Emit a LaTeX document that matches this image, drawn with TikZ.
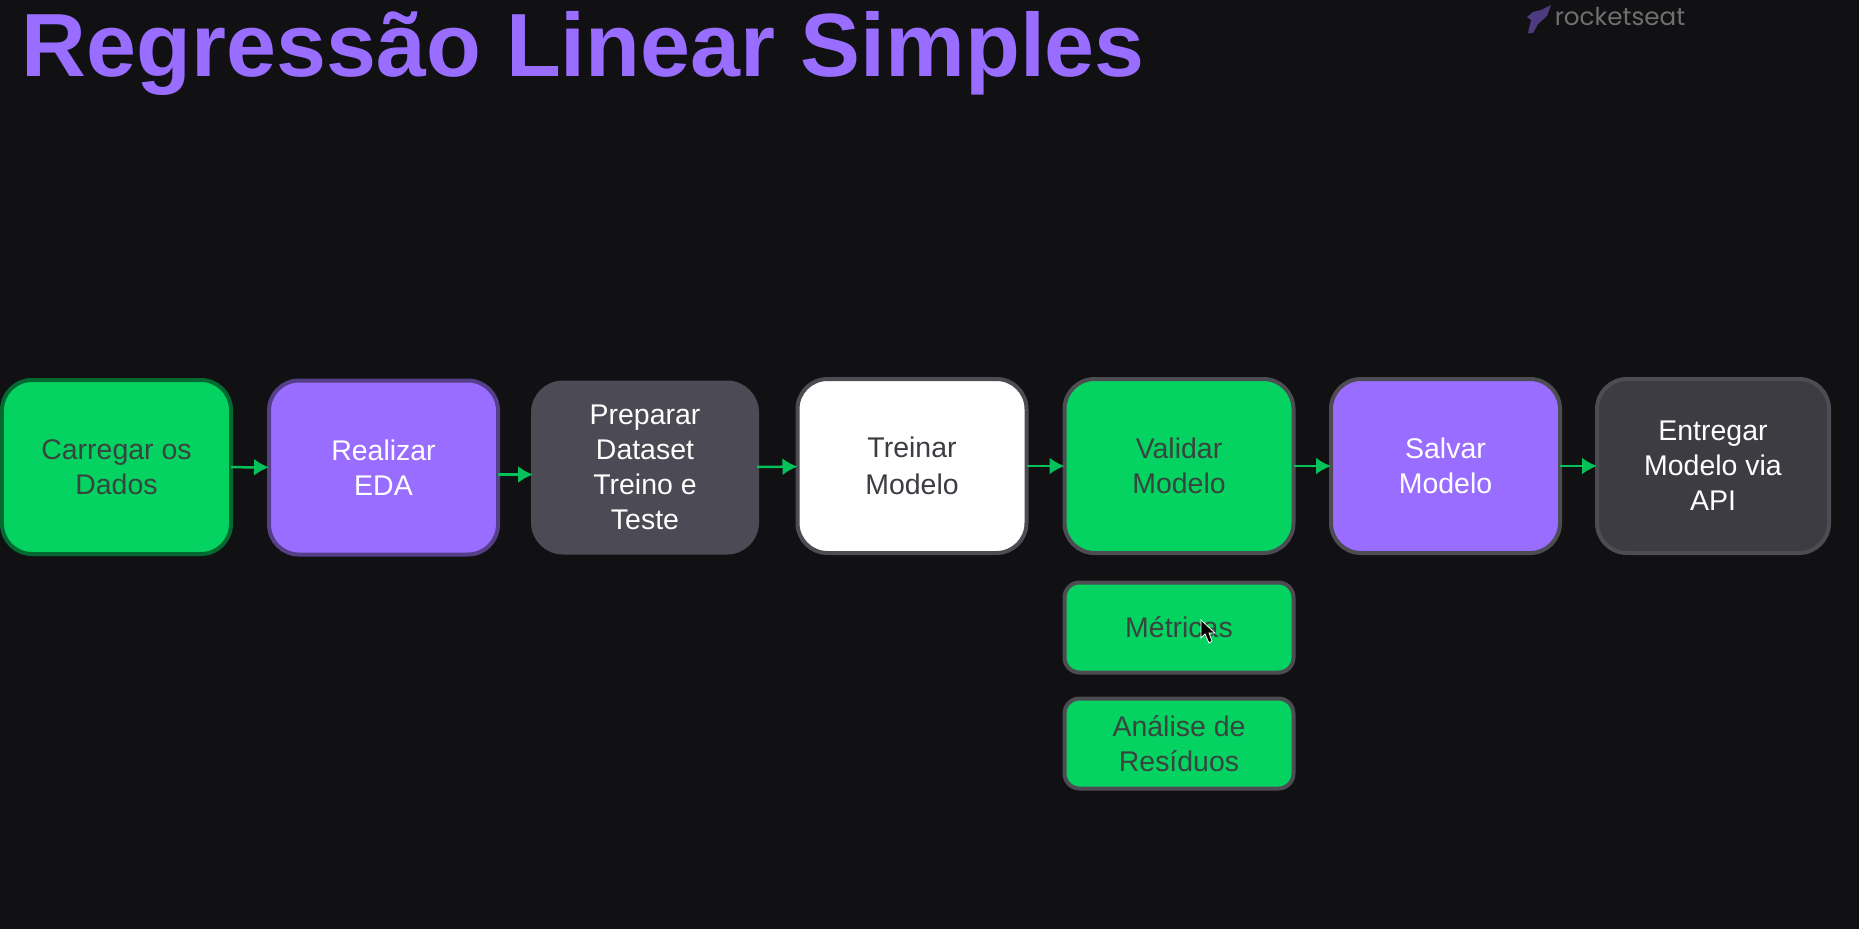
\documentclass[tikz,border=0pt]{standalone}
\usepackage{fontspec}
\setmainfont{Liberation Sans}
\newfontfamily\logofont{Poppins}
\usepackage{xcolor}
\usetikzlibrary{arrows.meta}
\definecolor{bgdark}{HTML}{111114}
\definecolor{rsgreen}{HTML}{04D361}
\definecolor{rspurple}{HTML}{996DFF}
\definecolor{rsgrey}{HTML}{4B4A55}
\definecolor{rsslate}{HTML}{3C3C42}
\definecolor{rsedge}{HTML}{4C4C52}
\definecolor{rstext}{HTML}{38453F}
\newcommand{\lblsize}{\fontsize{8.1}{9.95}\selectfont}

\begin{document}
\begin{tikzpicture}
\tikzstyle{every node}=[outer sep=0pt,inner sep=0pt]
\tikzstyle{stepbox}=[draw=rsedge,line width=0.04cm,rounded corners=0.3cm,minimum width=2.29cm,minimum height=1.74cm,align=center,font=\lblsize,text depth=-1.7pt]
\tikzstyle{subbox}=[stepbox,rounded corners=0.15cm,minimum height=0.9cm,fill=rsgreen,text=rstext,text depth=0pt]
\tikzstyle{flow}=[draw=rsgreen!92!black,line width=0.025cm,arrows={-Latex[length=0.15cm,width=0.17cm,fill=rsgreen!92!black]}]
\useasboundingbox (0,0) rectangle (18.59,-9.29);
\fill[bgdark] (0,0) rectangle (18.59,-9.29);
\node[anchor=base west,text=rspurple,font=\fontsize{25.55}{30}\selectfont\bfseries] (title) at (0.22,-0.76) {Regressão Linear Simples};
% logo
\fill[rspurple!45!bgdark] (15.51,-0.05) -- (15.47,-0.16) -- (15.38,-0.24) -- (15.33,-0.33) -- (15.28,-0.33) -- (15.31,-0.20) -- (15.27,-0.17) -- (15.33,-0.12) -- (15.41,-0.10) -- cycle;
\node[text=gray!85!bgdark,font=\logofont\fontsize{7}{8}\selectfont] (logo) at (16.20,-0.17) {rocketseat};
% main row
\node[stepbox,fill=rsgreen,draw=rsgreen!50!black,text=rstext] (load) at (1.165,-4.67) {Carregar os\\Dados};
\node[stepbox,fill=rspurple,draw=rspurple!50!bgdark,text=white] (eda) at (3.835,-4.675) {Realizar\\EDA};
\node[stepbox,fill=rsgrey,draw=rsgrey,text=white,minimum width=2.24cm,minimum height=1.70cm] (prep) at (6.45,-4.675) {Preparar\\Dataset\\Treino e\\Teste};
\node[stepbox,fill=white,text=rsslate] (train) at (9.12,-4.66) {Treinar\\[0.6pt]Modelo};
\node[stepbox,fill=rsgreen,text=rstext] (valid) at (11.79,-4.66) {Validar\\Modelo};
\node[stepbox,fill=rspurple,text=white] (save) at (14.455,-4.66) {Salvar\\Modelo};
\node[stepbox,fill=rsslate,text=white,minimum width=2.32cm] (api) at (17.13,-4.66) {Entregar\\Modelo via\\API};
% below validar
\node[subbox] (metric) at (11.79,-6.275) {Métricas};
\node[subbox] (resid) at (11.79,-7.435) {Análise de\\Resíduos};
\draw[flow] (load) -- (eda);
\draw[flow] ([yshift=-0.07cm]eda.east) -- ([yshift=-0.07cm]prep.west);
\draw[flow] (prep) -- (train);
\draw[flow] (train) -- (valid);
\draw[flow] (valid) -- (save);
\draw[flow] (save) -- (api);
% pointer
\filldraw[black,draw=white,line width=0.008cm] (12.01,-6.20) -- (12.01,-6.38) -- (12.05,-6.34) -- (12.09,-6.43) -- (12.12,-6.41) -- (12.09,-6.33) -- (12.15,-6.33) -- cycle;
\end{tikzpicture}
\end{document}
